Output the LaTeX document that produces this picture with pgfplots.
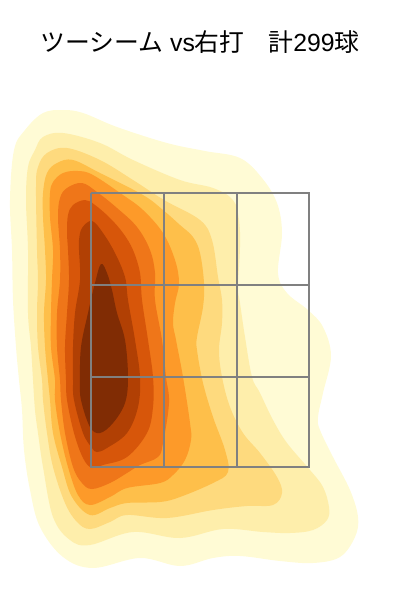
\documentclass[border=0pt]{standalone}
\usepackage{pgfplots}
\pgfplotsset{compat=1.18}
\usepackage{fontspec}
\setmainfont{Liberation Sans}
\newfontfamily\cjk{Noto Sans CJK JP}
\definecolor{la}{HTML}{FFFBD5}
\definecolor{lb}{HTML}{FEEEAB}
\definecolor{lc}{HTML}{FEDA7E}
\definecolor{ld}{HTML}{FEBF4A}
\definecolor{le}{HTML}{FD9A29}
\definecolor{lf}{HTML}{EF7619}
\definecolor{lg}{HTML}{D7560A}
\definecolor{lh}{HTML}{B14004}
\definecolor{li}{HTML}{802C04}
\begin{document}
\begin{tikzpicture}[x=1pt,y=1pt]
\path[use as bounding box] (0,0) rectangle (300,450);
\begin{axis}[at={(0,0)},anchor=south west,width=300pt,height=450pt,scale only axis,hide axis,
 xmin=0,xmax=400,ymin=0,ymax=600,y dir=reverse,clip=false,
 every axis plot/.append style={no markers,smooth cycle,tension=0.6,draw=none}]
\addplot[fill=la] coordinates {(63,110)(43,113)(25,130)(14,150)(10,200)(12,250)(13,300)(16,347)(19,380)(22,410)(24,450)(30,490)(40,527)(63,557)(93,568)(140,558)(180,566)(213,558)(240,556)(280,561)(313,563)(340,557)(355,537)(358,517)(350,490)(333,457)(320,430)(318,417)(323,393)(331,356)(323,327)(308,310)(287,293)(278,273)(282,233)(277,203)(262,178)(240,158)(205,151)(167,143)(117,127)(83,113)};
\addplot[fill=lb] coordinates {(63,133)(43,137)(35,150)(28,167)(26,200)(28,250)(28,313)(31,347)(33,380)(35,410)(38,433)(43,467)(53,517)(70,540)(90,545)(133,532)(180,538)(223,529)(263,532)(290,533)(313,530)(327,520)(329,507)(323,487)(310,470)(287,443)(273,420)(260,393)(252,377)(245,337)(240,303)(238,287)(240,247)(239,220)(233,200)(213,188)(180,180)(133,160)(100,143)};
\addplot[fill=lc] coordinates {(67,148)(47,153)(38,167)(36,187)(37,250)(38,280)(37,313)(38,347)(42,380)(43,400)(47,433)(53,467)(65,503)(77,522)(90,529)(110,522)(127,515)(167,518)(213,510)(247,506)(273,505)(282,493)(277,477)(260,453)(243,433)(230,407)(222,377)(219,350)(222,323)(222,300)(218,277)(212,240)(200,220)(164,200)(133,180)(100,160)};
\addplot[fill=ld] coordinates {(73,160)(57,163)(47,173)(43,193)(43,217)(45,250)(46,280)(44,313)(45,347)(48,380)(50,400)(53,433)(62,467)(72,497)(90,515)(110,508)(127,503)(160,502)(180,497)(213,483)(228,472)(225,450)(213,417)(203,383)(197,350)(197,337)(203,307)(204,283)(200,253)(193,237)(180,225)(163,210)(143,195)(100,173)};
\addplot[fill=le] coordinates {(78,171)(63,173)(53,182)(50,193)(50,217)(53,250)(52,280)(51,313)(51,347)(55,380)(55,400)(60,433)(68,467)(78,495)(90,505)(110,497)(127,488)(160,483)(173,475)(185,460)(191,440)(190,423)(183,377)(176,340)(173,323)(175,303)(179,283)(175,260)(163,233)(143,210)(123,195)(93,175)};
\addplot[fill=lf] coordinates {(82,183)(67,188)(60,198)(58,217)(60,250)(60,280)(57,313)(57,347)(60,380)(61,400)(65,433)(73,467)(82,483)(92,489)(110,483)(127,473)(140,465)(158,457)(163,443)(169,403)(166,377)(162,340)(155,300)(155,273)(150,250)(137,227)(117,208)(97,192)};
\addplot[fill=lg] coordinates {(85,200)(73,205)(68,215)(67,233)(68,250)(69,280)(67,313)(65,347)(66,380)(67,400)(74,433)(83,458)(92,468)(103,465)(127,457)(147,433)(153,407)(153,377)(148,340)(142,300)(140,273)(133,250)(123,233)(110,218)(95,205)};
\addplot[fill=lh] coordinates {(92,221)(82,228)(79,240)(79,250)(80,280)(75,313)(73,347)(73,380)(74,400)(83,433)(92,448)(97,452)(107,448)(127,433)(138,407)(140,377)(135,340)(128,300)(125,277)(115,253)(103,233)};
\addplot[fill=li] coordinates {(101,264)(95,283)(88,313)(81,347)(80,380)(81,400)(90,427)(100,433)(113,423)(125,403)(128,377)(125,340)(117,313)(112,290)(107,273)};
\addplot[sharp plot,draw=gray,line width=0.85pt] coordinates {(91,193)(309,193)(309,467)(91,467)(91,193)};
\addplot[sharp plot,draw=gray,line width=0.85pt] coordinates {(164,193)(164,467)};
\addplot[sharp plot,draw=gray,line width=0.85pt] coordinates {(237,193)(237,467)};
\addplot[sharp plot,draw=gray,line width=0.85pt] coordinates {(91,285)(309,285)};
\addplot[sharp plot,draw=gray,line width=0.85pt] coordinates {(91,377)(309,377)};
\node[anchor=center,inner sep=0pt,font=\fontsize{18.6}{20}\selectfont] at (axis cs:200,42) {{\cjk ツーシーム} vs{\cjk 右打}\hspace{18pt}{\cjk 計}299{\cjk 球}};
\end{axis}
\end{tikzpicture}
\end{document}
